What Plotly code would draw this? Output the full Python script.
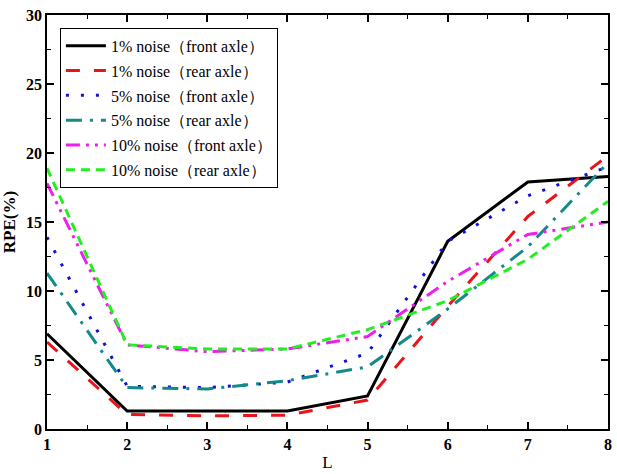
import plotly.graph_objects as go

L = [1, 2, 3, 4, 5, 6, 7, 8]
names = ["1% noise（front axle）", "1% noise（rear axle）", "5% noise（front axle）",
         "5% noise（rear axle）", "10% noise（front axle）", "10% noise（rear axle）"]
front1 = [6.9, 1.3, 1.3, 1.3, 2.4, 13.6, 17.9, 18.3]
rear1 = [6.3, 1.05, 0.95, 1.0, 2.1, 8.9, 15.4, 19.8]
front5 = [13.9, 3.1, 3.0, 3.4, 5.5, 13.6, 16.9, 19.0]
rear5 = [11.3, 3.0, 2.9, 3.5, 4.5, 8.7, 13.2, 19.3]
front10 = [17.8, 6.1, 5.6, 5.8, 6.7, 10.7, 14.1, 15.0]
rear10 = [18.9, 6.1, 5.8, 5.8, 7.2, 9.3, 12.3, 16.5]
series = [front1, rear1, front5, rear5, front10, rear10]
colors = ["#000000", "#e8141a", "#1010d8", "#138a8a", "#ee1eee", "#22ee22"]
dashes = ["solid", "14px,14px", "3px,12px", "16px,8px,3px,8px", "14px,6px,3px,6px,3px,6px", "9px,6px"]

fig = go.Figure()
for i, (n, s, c, d) in enumerate(zip(names, series, colors, dashes)):
    fig.add_trace(go.Scatter(x=L, y=s, mode="lines", name=n, legendgroup="g%d" % i,
                             line=dict(color=c, width=3, dash=d)))

font = "Liberation Serif, Times New Roman, serif"
axis_common = dict(showline=True, linecolor="black", linewidth=1.5, mirror="ticks",
                   ticks="inside", ticklen=7, tickwidth=1.5, tickcolor="black",
                   showgrid=False, zeroline=False,
                   tickfont=dict(family=font, size=16, color="black", weight="bold"))
fig.update_xaxes(range=[1, 8], dtick=1, tick0=1,
                 minor=dict(ticks="inside", ticklen=4, dtick=0.5, tickcolor="black", tickwidth=1.2),
                 title=dict(text="L", font=dict(family=font, size=17, color="black"), standoff=4),
                 **axis_common)
fig.update_yaxes(range=[0, 30], dtick=5,
                 minor=dict(ticks="inside", ticklen=4, dtick=2.5, tickcolor="black", tickwidth=1.2),
                 title=dict(text="<b>RPE(%)</b>", font=dict(family=font, size=17, color="black"), standoff=8),
                 **axis_common)
fig.update_layout(
    width=617, height=474,
    margin=dict(l=47, r=5, t=15, b=44),
    paper_bgcolor="white", plot_bgcolor="white",
    legend=dict(x=0.023, y=0.969, xanchor="left", yanchor="top",
                bordercolor="black", borderwidth=1, bgcolor="white",
                font=dict(family=font, size=16, color="black"),
                tracegroupgap=1, itemwidth=40),
    showlegend=True,
)
fig.write_html("out.html")
